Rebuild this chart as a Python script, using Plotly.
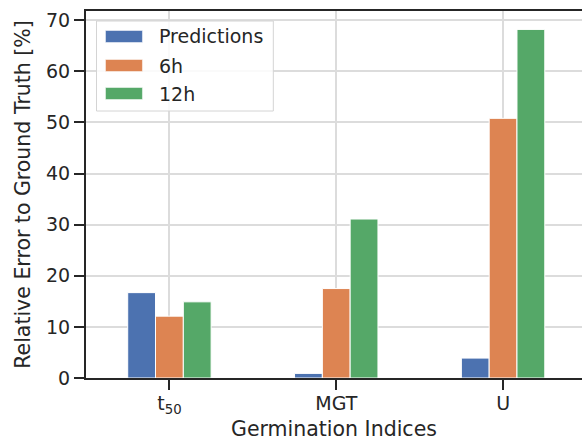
import plotly.graph_objects as go

categories = ["t<sub>50</sub>", "MGT", "U"]
series_names = ["Predictions", "6h", "12h"]
predictions = [16.7, 0.9, 3.9]
err_6h = [12.1, 17.5, 50.8]
err_12h = [14.9, 31.1, 68.2]
y_ticks = [0, 10, 20, 30, 40, 50, 60, 70]

colors = ["#4C72B0", "#DD8452", "#55A868"]
values = [predictions, err_6h, err_12h]
TXT = "#262626"
FONT = "DejaVu Sans"

W, H = 582, 444
ML, MR, MT, MB = 85.5, 0, 11, 66
PW, PH = W - ML - MR, H - MT - MB

x_idx = list(range(len(categories)))

fig = go.Figure()
for name, vals, col in zip(series_names, values, colors):
    fig.add_trace(go.Bar(
        x=x_idx, y=vals, name=name,
        marker=dict(color=col, line=dict(color="white", width=1)),
        showlegend=False,
    ))

def px_x(px):
    return (px - ML) / PW

def px_y(py):
    return (H - MB - py) / PH

shapes = []
annotations = []
# legend box
shapes.append(dict(type="rect", xref="paper", yref="paper",
                   x0=px_x(96), x1=px_x(273), y0=px_y(111), y1=px_y(21),
                   fillcolor="rgba(255,255,255,0.85)",
                   line=dict(color="#d4d4d4", width=1), layer="above"))
row_y = [36.5, 65.5, 93.5]
for name, col, ry in zip(series_names, colors, row_y):
    shapes.append(dict(type="rect", xref="paper", yref="paper",
                       x0=px_x(105), x1=px_x(142), y0=px_y(ry + 6), y1=px_y(ry - 6),
                       fillcolor=col, line=dict(color="white", width=0.5), layer="above"))
    annotations.append(dict(xref="paper", yref="paper", x=px_x(157), y=px_y(ry),
                            text=name, showarrow=False, xanchor="left", yanchor="middle",
                            font=dict(family=FONT, size=19, color=TXT)))

fig.update_layout(
    width=W, height=H,
    margin=dict(l=ML, r=MR, t=MT, b=MB, autoexpand=False),
    paper_bgcolor="white", plot_bgcolor="white",
    barmode="group", bargap=0.5, bargroupgap=0,
    font=dict(family=FONT, size=19, color=TXT),
    shapes=shapes, annotations=annotations,
    xaxis=dict(
        range=[-0.5, 2.5 - 4.5 / 167], tickvals=x_idx, ticktext=categories,
        showgrid=True, gridcolor="#dcdcdc", gridwidth=1.5,
        showline=True, linecolor=TXT, linewidth=2, mirror=True,
        ticks="outside", ticklen=10, tickwidth=2, tickcolor=TXT,
        tickfont=dict(family=FONT, size=19, color=TXT), ticklabelstandoff=-3,
        title=dict(text="Germination Indices", font=dict(family=FONT, size=20.5, color=TXT), standoff=6),
        zeroline=False, automargin=False,
    ),
    yaxis=dict(
        range=[0, 71.8], tickvals=y_ticks,
        showgrid=True, gridcolor="#dcdcdc", gridwidth=1.5,
        showline=True, linecolor=TXT, linewidth=2, mirror=False,
        ticks="outside", ticklen=10, tickwidth=2, tickcolor=TXT,
        tickfont=dict(family=FONT, size=19, color=TXT),
        title=dict(text="Relative Error to Ground Truth [%]", font=dict(family=FONT, size=20.5, color=TXT), standoff=10),
        zeroline=False, automargin=False,
    ),
)

fig.write_html("out.html", config={"displayModeBar": False},
               post_script="document.body.style.margin='0';document.body.style.overflow='hidden';")
